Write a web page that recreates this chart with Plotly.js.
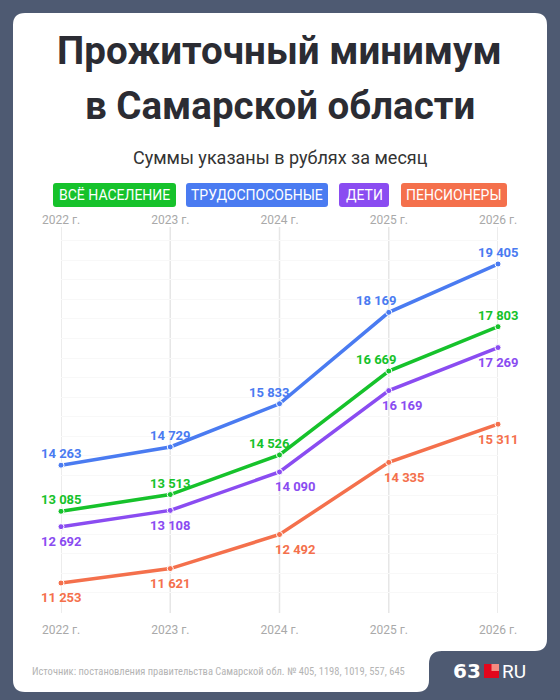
<!DOCTYPE html>
<html>
<head>
<meta charset="utf-8">
<script src="https://cdn.plot.ly/plotly-3.0.1.min.js"></script>
<style>
  html, body { margin: 0; padding: 0; background: #4e5a72; }
  #chart { width: 560px; height: 700px; }
</style>
</head>
<body>
<div id="chart"></div>
<script>
// ---- data ----
const years = [2022, 2023, 2024, 2025, 2026];
const tickLabels = ['2022 г.', '2023 г.', '2024 г.', '2025 г.', '2026 г.'];
const seriesNames = ['ВСЁ НАСЕЛЕНИЕ', 'ТРУДОСПОСОБНЫЕ', 'ДЕТИ', 'ПЕНСИОНЕРЫ'];
const allPopulation = [13085, 13513, 14526, 16669, 17803];
const ableBodied = [14263, 14729, 15833, 18169, 19405];
const children = [12692, 13108, 14090, 16169, 17269];
const pensioners = [11253, 11621, 12492, 14335, 15311];
const titleLine1 = 'Прожиточный минимум';
const titleLine2 = 'в Самарской области';
const subtitle = 'Суммы указаны в рублях за месяц';
const sourceText = 'Источник: постановления правительства Самарской обл. № 405, 1198, 1019, 557, 645';

// ---- styling ----
const colors = { green: '#16c22b', blue: '#4a7bf1', purple: '#8a4cf1', orange: '#f4704c' };
const FONT = 'Roboto, "Noto Sans", sans-serif';
const NARROW = '"Liberation Sans Narrow", "Roboto Condensed", "DejaVu Sans Condensed", Roboto, sans-serif';
const W = 560, H = 700;
const M = { l: 61, r: 62, t: 227, b: 87 };
const PW = W - M.l - M.r, PH = H - M.t - M.b;
const px = x => (x - M.l) / PW;
const py = y => (H - M.b - y) / PH;
const pt = (x, y) => px(x).toFixed(5) + ',' + py(y).toFixed(5);

function roundRect(x0, y0, x1, y1, r) {
  return 'M' + pt(x0 + r, y0) + ' L' + pt(x1 - r, y0) + ' Q' + pt(x1, y0) + ' ' + pt(x1, y0 + r) +
    ' L' + pt(x1, y1 - r) + ' Q' + pt(x1, y1) + ' ' + pt(x1 - r, y1) +
    ' L' + pt(x0 + r, y1) + ' Q' + pt(x0, y1) + ' ' + pt(x0, y1 - r) +
    ' L' + pt(x0, y0 + r) + ' Q' + pt(x0, y0) + ' ' + pt(x0 + r, y0) + ' Z';
}

// card with notch at bottom right
const cardPath = 'M' + pt(25, 13) + ' L' + pt(535, 13) + ' Q' + pt(547, 13) + ' ' + pt(547, 25) +
  ' L' + pt(547, 639) + ' Q' + pt(547, 651) + ' ' + pt(535, 651) +
  ' L' + pt(442, 651) + ' Q' + pt(429, 651) + ' ' + pt(429, 664) +
  ' L' + pt(429, 680) + ' Q' + pt(429, 692) + ' ' + pt(417, 692) +
  ' L' + pt(25, 692) + ' Q' + pt(13, 692) + ' ' + pt(13, 680) +
  ' L' + pt(13, 25) + ' Q' + pt(13, 13) + ' ' + pt(25, 13) + ' Z';

const shapes = [
  { type: 'path', xref: 'paper', yref: 'paper', path: cardPath, fillcolor: '#ffffff', line: { width: 0 }, layer: 'below' }
];
// vertical year guides
years.forEach(yr => {
  shapes.push({ type: 'line', xref: 'x', yref: 'paper', x0: yr, x1: yr, y0: 0, y1: 1,
    line: { color: '#e6e6e6', width: 1.5 }, layer: 'below' });
});

const series = [
  { name: seriesNames[1], values: ableBodied, color: colors.blue, above: true, xs: [0, 0, -10, -12, 0] },
  { name: seriesNames[0], values: allPopulation, color: colors.green, above: true, xs: [0, 0, -10, -12, 0] },
  { name: seriesNames[2], values: children, color: colors.purple, above: false, xs: [0, 0, 16, 14, 0] },
  { name: seriesNames[3], values: pensioners, color: colors.orange, above: false, xs: [0, 0, 16, 16, 0] }
];

const traces = series.map(s => ({
  type: 'scatter', mode: 'lines+markers', x: years, y: s.values, name: s.name,
  line: { color: s.color, width: 3.5 },
  marker: { color: s.color, size: 6, line: { color: '#ffffff', width: 1 } },
  cliponaxis: false, showlegend: false, hoverinfo: 'skip'
}));
// dummy trace for the top axis
traces.push({ type: 'scatter', mode: 'markers', x: years, y: years.map(() => null), xaxis: 'x2', yaxis: 'y', showlegend: false, hoverinfo: 'skip' });

const fmt = v => String(v).replace(/\B(?=(\d{3})+(?!\d))/g, ' ');

const annotations = [];
series.forEach(s => {
  s.values.forEach((v, i) => {
    annotations.push({
      x: years[i], y: v, xref: 'x', yref: 'y', text: fmt(v), showarrow: false,
      xanchor: 'center', yanchor: 'middle', xshift: s.xs[i], yshift: s.above ? 11.5 : -15,
      font: { family: FONT, size: 13, color: s.color, weight: 700 }
    });
  });
});

// titles
annotations.push({ xref: 'paper', yref: 'paper', x: px(279), y: py(51), text: titleLine1, showarrow: false,
  xanchor: 'center', yanchor: 'middle', font: { family: FONT, size: 38.5, color: '#2b2c33', weight: 700 } });
annotations.push({ xref: 'paper', yref: 'paper', x: px(280), y: py(105), text: titleLine2, showarrow: false,
  xanchor: 'center', yanchor: 'middle', font: { family: FONT, size: 38.5, color: '#2b2c33', weight: 700 } });
annotations.push({ xref: 'paper', yref: 'paper', x: px(280), y: py(157), text: subtitle, showarrow: false,
  xanchor: 'center', yanchor: 'middle', font: { family: FONT, size: 18, color: '#333333' } });

// legend pills
const pills = [
  { label: seriesNames[0], color: colors.green, x0: 53, x1: 176 },
  { label: seriesNames[1], color: colors.blue, x0: 186, x1: 328 },
  { label: seriesNames[2], color: colors.purple, x0: 339, x1: 389 },
  { label: seriesNames[3], color: colors.orange, x0: 401, x1: 507 }
];
pills.forEach(p => {
  shapes.push({ type: 'path', xref: 'paper', yref: 'paper', path: roundRect(p.x0, 183, p.x1, 207, 3),
    fillcolor: p.color, line: { width: 0 }, layer: 'above' });
  annotations.push({ xref: 'paper', yref: 'paper', x: px((p.x0 + p.x1) / 2), y: py(195.5), text: p.label,
    showarrow: false, xanchor: 'center', yanchor: 'middle', font: { family: FONT, size: 14, color: '#ffffff' } });
});

// source
annotations.push({ xref: 'paper', yref: 'paper', x: px(30), y: py(671), text: sourceText, showarrow: false,
  xanchor: 'left', yanchor: 'middle', font: { family: NARROW, size: 10.5, color: '#b4b4b4' } });

// logo
annotations.push({ xref: 'paper', yref: 'paper', x: px(483), y: py(671), text: '63', showarrow: false,
  xanchor: 'right', yanchor: 'middle', font: { family: '"DejaVu Sans", sans-serif', size: 20, color: '#ffffff', weight: 700 } });
shapes.push({ type: 'rect', xref: 'paper', yref: 'paper', x0: px(484), x1: px(499), y0: py(678), y1: py(664), fillcolor: '#e3061c', line: { width: 0 } });
shapes.push({ type: 'rect', xref: 'paper', yref: 'paper', x0: px(491.5), x1: px(499), y0: py(671), y1: py(664), fillcolor: '#f58a80', line: { width: 0 } });
annotations.push({ xref: 'paper', yref: 'paper', x: px(500), y: py(671), text: 'RU', showarrow: false,
  xanchor: 'left', yanchor: 'middle', font: { family: FONT, size: 19, color: '#ffffff' } });

const axisFont = { family: FONT, size: 12, color: '#a9a9a9' };
const layout = {
  width: W, height: H, margin: M,
  paper_bgcolor: '#4e5a72', plot_bgcolor: 'rgba(0,0,0,0)',
  showlegend: false,
  xaxis: {
    range: [2022, 2026], tickmode: 'array', tickvals: years, ticktext: tickLabels,
    showgrid: false, zeroline: false, showline: false,
    ticks: '', tickfont: axisFont, ticklabelstandoff: 8, fixedrange: true
  },
  xaxis2: {
    overlaying: 'x', side: 'top', range: [2022, 2026], tickmode: 'array', tickvals: years, ticktext: tickLabels,
    showgrid: false, zeroline: false, showline: false, ticks: '', tickfont: axisFont, ticklabelstandoff: 0
  },
  yaxis: {
    range: [10486, 20350], dtick: 500, tick0: 0, showticklabels: false, showgrid: true,
    gridcolor: '#f8f8f8', gridwidth: 1, zeroline: false, showline: false, ticks: ''
  },
  shapes: shapes,
  annotations: annotations
};

Plotly.newPlot('chart', traces, layout, { displayModeBar: false, staticPlot: true });
</script>
</body>
</html>
